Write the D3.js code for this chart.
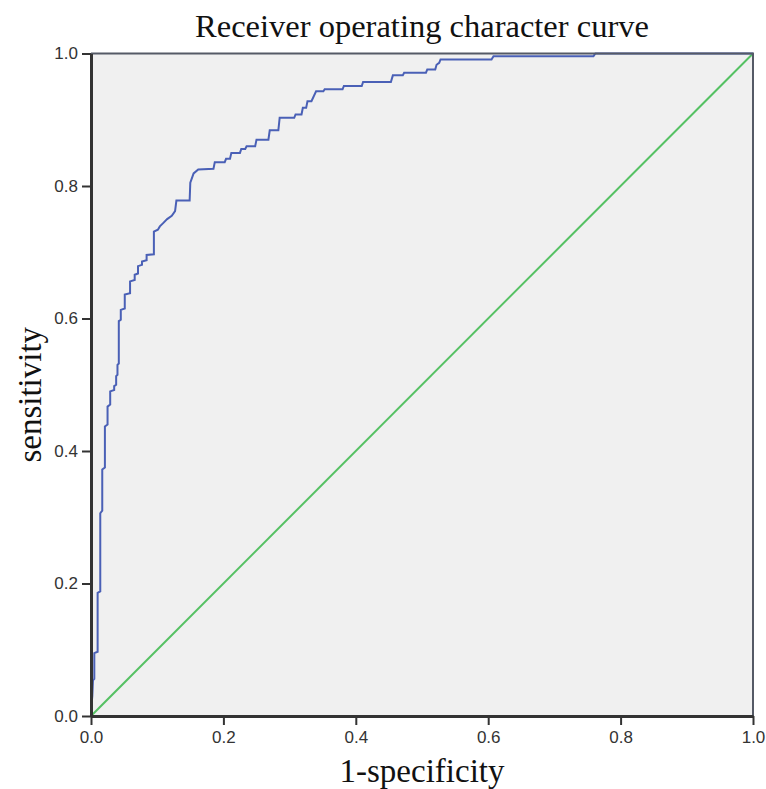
<!DOCTYPE html>
<html>
<head>
<meta charset="utf-8">
<script src="https://cdn.jsdelivr.net/npm/d3@7"></script>
<style>
  body { margin: 0; background: #fff; }
  .tick text { font-family: "Liberation Sans", Arial, sans-serif; font-size: 17px; fill: #333; }
</style>
</head>
<body>
<div id="chart"></div>
<script>
// ROC curve vertices (1-specificity, sensitivity)
const fpr = [0, 0.001, 0.002, 0.003, 0.005, 0.005, 0.010, 0.010, 0.014, 0.014,
  0.017, 0.017, 0.021, 0.021, 0.025, 0.025, 0.029, 0.029, 0.035, 0.035,
  0.038, 0.038, 0.040, 0.040, 0.042, 0.042, 0.045, 0.045, 0.051, 0.051,
  0.059, 0.059, 0.066, 0.066, 0.071, 0.071, 0.077, 0.077, 0.084, 0.084,
  0.095, 0.095, 0.101, 0.104, 0.109, 0.115, 0.122, 0.127, 0.129, 0.149,
  0.150, 0.155, 0.162, 0.185, 0.187, 0.202, 0.204, 0.210, 0.212, 0.225,
  0.227, 0.233, 0.235, 0.248, 0.250, 0.268, 0.270, 0.283, 0.285, 0.307,
  0.309, 0.318, 0.320, 0.325, 0.327, 0.333, 0.340, 0.351, 0.353, 0.380,
  0.382, 0.409, 0.411, 0.453, 0.456, 0.471, 0.473, 0.506, 0.508, 0.520,
  0.522, 0.526, 0.528, 0.605, 0.608, 0.759, 0.762, 1.0];
const tpr = [0, 0.020, 0.030, 0.054, 0.056, 0.095, 0.097, 0.186, 0.188, 0.306,
  0.310, 0.372, 0.375, 0.437, 0.440, 0.467, 0.470, 0.490, 0.492, 0.498,
  0.500, 0.513, 0.515, 0.530, 0.532, 0.596, 0.598, 0.613, 0.615, 0.636,
  0.638, 0.656, 0.658, 0.666, 0.668, 0.679, 0.681, 0.686, 0.688, 0.696,
  0.697, 0.731, 0.734, 0.739, 0.744, 0.750, 0.755, 0.762, 0.778, 0.778,
  0.805, 0.819, 0.825, 0.826, 0.836, 0.836, 0.841, 0.841, 0.850, 0.850,
  0.856, 0.856, 0.860, 0.860, 0.870, 0.870, 0.884, 0.884, 0.903, 0.903,
  0.908, 0.908, 0.918, 0.918, 0.928, 0.928, 0.943, 0.943, 0.946, 0.946,
  0.951, 0.951, 0.957, 0.957, 0.967, 0.967, 0.971, 0.971, 0.976, 0.976,
  0.983, 0.986, 0.991, 0.991, 0.996, 0.996, 1.0, 1.0];
// reference line
const diagX = [0, 1];
const diagY = [0, 1];
const ticks = [0, 0.2, 0.4, 0.6, 0.8, 1.0];

const W = 766, H = 789;
const margin = {top: 53.5, left: 91, right: 13, bottom: 73};
const w = W - margin.left - margin.right;
const h = H - margin.top - margin.bottom;

const svg = d3.select("#chart").append("svg")
  .attr("width", W)
  .attr("height", H);

const g = svg.append("g")
  .attr("transform", `translate(${margin.left},${margin.top})`);

const x = d3.scaleLinear().domain([0, 1]).range([0, w]);
const y = d3.scaleLinear().domain([0, 1]).range([h, 0]);

// plot background
g.append("rect")
  .attr("width", w)
  .attr("height", h)
  .attr("fill", "#f0f0f0");

const line = d3.line()
  .x(d => x(d[0]))
  .y(d => y(d[1]));

// diagonal
g.append("path")
  .datum(d3.zip(diagX, diagY))
  .attr("d", line)
  .attr("fill", "none")
  .attr("stroke", "#55c163")
  .attr("stroke-width", 2);

// roc curve
g.append("path")
  .datum(d3.zip(fpr, tpr))
  .attr("d", line)
  .attr("fill", "none")
  .attr("stroke", "#4a60b6")
  .attr("stroke-width", 2);

// top / right frame
g.append("path")
  .attr("d", `M0,0H${w}V${h}`)
  .attr("fill", "none")
  .attr("stroke", "#555a66")
  .attr("stroke-width", 2);

const xAxis = g.append("g")
  .attr("transform", `translate(0,${h})`)
  .call(d3.axisBottom(x).tickValues(ticks).tickFormat(d3.format(".1f")).tickSize(9).tickPadding(6).tickSizeOuter(0));

const yAxis = g.append("g")
  .call(d3.axisLeft(y).tickValues(ticks).tickFormat(d3.format(".1f")).tickSize(9).tickPadding(4).tickSizeOuter(0));

[xAxis, yAxis].forEach(a => {
  a.select(".domain").attr("stroke", "#333").attr("stroke-width", 3);
  a.selectAll(".tick line").attr("stroke", "#333").attr("stroke-width", 2);
});

// titles
svg.append("text")
  .attr("x", margin.left + w / 2)
  .attr("y", 37)
  .attr("text-anchor", "middle")
  .attr("font-family", "Liberation Serif, Times New Roman, serif")
  .attr("font-size", 32.5)
  .attr("fill", "#111")
  .text("Receiver operating character curve");

svg.append("text")
  .attr("x", margin.left + w / 2)
  .attr("y", 782)
  .attr("text-anchor", "middle")
  .attr("font-family", "Liberation Serif, Times New Roman, serif")
  .attr("font-size", 33)
  .attr("fill", "#111")
  .text("1-specificity");

svg.append("text")
  .attr("transform", `translate(41,${margin.top + h / 2 + 10}) rotate(-90)`)
  .attr("text-anchor", "middle")
  .attr("font-family", "Liberation Serif, Times New Roman, serif")
  .attr("font-size", 33)
  .attr("fill", "#111")
  .text("sensitivity");
</script>
</body>
</html>
